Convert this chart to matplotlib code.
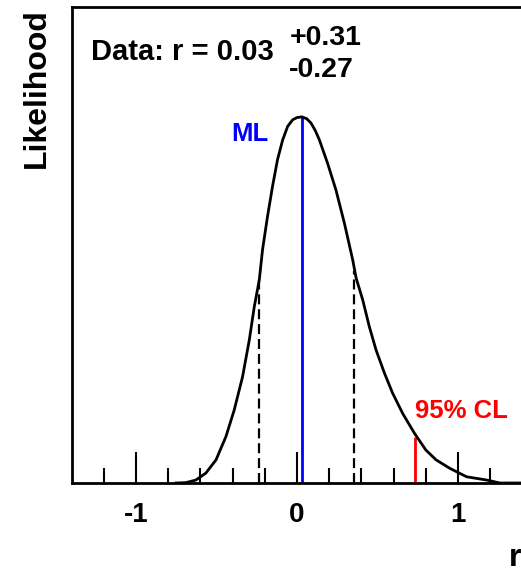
import matplotlib
matplotlib.use("Agg")
import matplotlib.pyplot as plt
from matplotlib.ticker import FixedLocator

# likelihood curve (r, relative likelihood)
r_vals = [-0.75, -0.69, -0.628, -0.566, -0.503, -0.441, -0.39, -0.338, -0.296,
          -0.265, -0.234, -0.214, -0.183, -0.152, -0.121, -0.089, -0.058, -0.027,
          0.0, 0.03, 0.06, 0.087, 0.113, 0.139, 0.19, 0.242, 0.294, 0.346, 0.367,
          0.408, 0.449, 0.491, 0.543, 0.594, 0.656, 0.729, 0.80, 0.864, 0.949,
          1.053, 1.178, 1.26, 1.40]
like_vals = [0.0, 0.001, 0.008, 0.027, 0.063, 0.127, 0.199, 0.29, 0.391,
             0.482, 0.555, 0.637, 0.728, 0.81, 0.883, 0.937, 0.974, 0.992,
             0.998, 1.0, 0.995, 0.983, 0.963, 0.937, 0.873, 0.80, 0.71, 0.609, 0.56,
             0.50, 0.427, 0.363, 0.30, 0.245, 0.19, 0.136, 0.09, 0.063, 0.040,
             0.017, 0.008, 0.0, 0.0]

r_ml = 0.03
ml_height = 1.0
r_err = [-0.234, 0.352]        # dashed lines (ML -0.27 / +0.31)
err_height = [0.56, 0.58]
r_cl95 = 0.735
cl95_height = 0.125

xticks_major = [-1, 0, 1]
xtick_labels = ["-1", "0", "1"]
xticks_minor = [-1.2, -0.8, -0.6, -0.4, -0.2, 0.2, 0.4, 0.6, 0.8, 1.2]

plt.rcParams['font.family'] = ['Liberation Sans', 'DejaVu Sans']

fig = plt.figure(figsize=(5.21, 5.74), dpi=100)
ax = fig.add_axes([71.5 / 521, 91 / 574, 451 / 521, 476 / 574])

ax.plot(r_vals, like_vals, color="black", lw=2.0, zorder=3)
ax.vlines(r_ml, 0, ml_height, color="#0000ff", lw=2.0, zorder=2)
ax.vlines(r_err, 0, err_height, color="black", lw=1.6, linestyles=(0, (4.5, 2.2)), zorder=2)
ax.vlines(r_cl95, 0, cl95_height, color="#ff0000", lw=2.0, zorder=2)

ax.set_xlim(-1.4, 1.4)
ax.set_ylim(0, 1.3)
ax.set_xticks(xticks_major)
ax.set_xticklabels(xtick_labels, fontsize=20, fontweight="bold")
ax.xaxis.set_minor_locator(FixedLocator(xticks_minor))
ax.tick_params(axis="x", which="major", direction="in", length=22, width=1.5, pad=14)
ax.tick_params(axis="x", which="minor", direction="in", length=11, width=1.5)
ax.set_yticks([])
for s in ax.spines.values():
    s.set_linewidth(2.0)

ax.text(-1.278, 1.156, "Data: r = 0.03", fontsize=21, fontweight="bold")
ax.text(-0.048, 1.197, "+0.31", fontsize=20.5, fontweight="bold")
ax.text(-0.052, 1.109, "-0.27", fontsize=20.5, fontweight="bold")
ax.text(-0.41, 0.933, "ML", fontsize=18.5, fontweight="bold", color="#0000ff")
ax.text(0.73, 0.178, "95% CL", fontsize=18.5, fontweight="bold", color="#ff0000")

fig.text(37 / 521, 1 - 8 / 574, "Likelihood", rotation=90, ha="center", va="top",
         fontsize=23, fontweight="bold")
fig.text(1.0, 1 - 573 / 574, "r", ha="right", va="bottom", fontsize=23, fontweight="bold")

fig.savefig("out.png", dpi=100)
